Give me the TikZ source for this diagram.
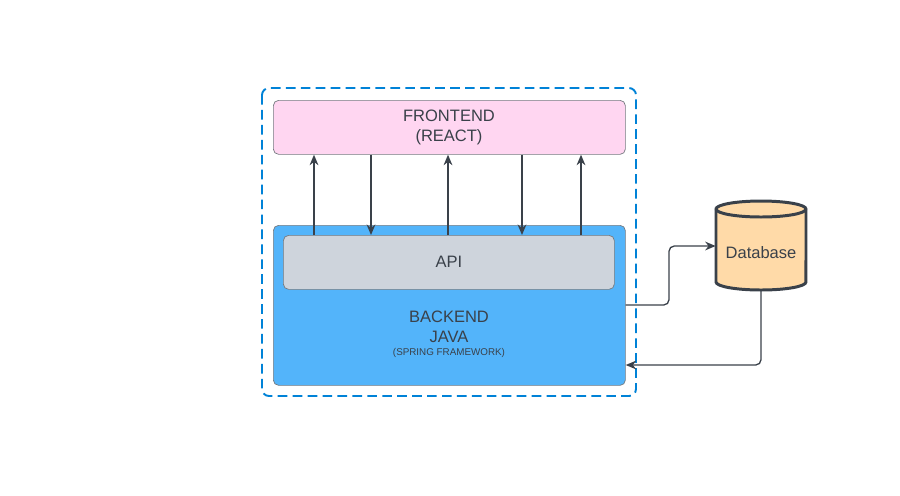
\documentclass[tikz,border=0pt]{standalone}
\usepackage{fontspec}
\setmainfont{Liberation Sans}
\usepackage{tikz}
\usetikzlibrary{arrows,arrows.meta}
\usetikzlibrary{calc}
\definecolor{pfeil}{RGB}{58,65,74}
\definecolor{rahmen}{RGB}{0,130,215}
\definecolor{rosa}{RGB}{255,214,241}
\definecolor{himmel}{RGB}{83,180,250}
\definecolor{grau}{RGB}{206,212,220}
\definecolor{sand}{RGB}{255,218,168}
\colorlet{kante}{pfeil!70}

\begin{document}
\begin{tikzpicture}[x=0.02cm, y=-0.02cm, >={Stealth[length=6pt,width=5pt]}, pfeil, font=\fontsize{9.4}{11.3}\selectfont]

	\useasboundingbox (0,0) rectangle (900,495);

	% aeusserer rahmen
	\draw[rahmen, line width=1.1pt, dash pattern=on 5.5pt off 3pt, rounded corners=4pt] (262,88) rectangle (636,396);

	\node[draw=kante, fill=rosa, rounded corners=3pt, anchor=north west, minimum width=352*0.02cm, minimum height=54*0.02cm, inner sep=0pt] (front) at (273,100) {};
	\node[align=center] (fronttxt) at (449,127.5) {FRONTEND\\(REACT)};

	\node[draw=kante, fill=himmel, rounded corners=3pt, anchor=north west, minimum width=352*0.02cm, minimum height=160*0.02cm, inner sep=0pt] (back) at (273,225) {};
	\node[draw=kante, fill=grau, rounded corners=3pt, anchor=north west, minimum width=331*0.02cm, minimum height=54*0.02cm, inner sep=0pt] (api) at (283,235) {};
	\node (apitxt) at (449,261.5) {API};
	\node[align=center, inner sep=1pt] (backtxt) at (449,326.5) {BACKEND\\JAVA};
	\node[font=\fontsize{5.6}{7}\selectfont] (spring) at (449,352.5) {(SPRING FRAMEWORK)};

	% datenbank-zylinder
	\node[minimum width=90*0.02cm, minimum height=90*0.02cm, inner sep=0pt] (db) at (761,245.5) {};
	\draw[pfeil, line width=1.7pt, fill=sand] (716,209) -- (716,282) arc[start angle=180, end angle=360, x radius=0.9cm, y radius=0.16cm] -- (806,209) arc[start angle=0, end angle=180, x radius=0.9cm, y radius=0.16cm] -- cycle;
	\draw[pfeil, line width=1.7pt] (716,209) arc[start angle=180, end angle=360, x radius=0.9cm, y radius=0.16cm];
	\node (dbtxt) at (761,252.5) {Database};

	% pfeile zwischen frontend und api
	\foreach \x in {314,448,581}
		\draw[->, line width=0.75pt] (api.north -| \x,0) -- (front.south -| \x,0);
	\foreach \x in {371,522}
		\draw[->, line width=0.75pt] (front.south -| \x,0) -- (api.north -| \x,0);

	% verbindungen zur datenbank
	\draw[->, line width=0.75pt, rounded corners=3pt] (back.east |- 0,305) -- (669,305) -- (669,246) -- (db.west |- 0,246);
	\draw[->, line width=0.75pt, rounded corners=3pt] (db.south) -- (761,365) -- (back.east |- 0,365);

\end{tikzpicture}
\end{document}
